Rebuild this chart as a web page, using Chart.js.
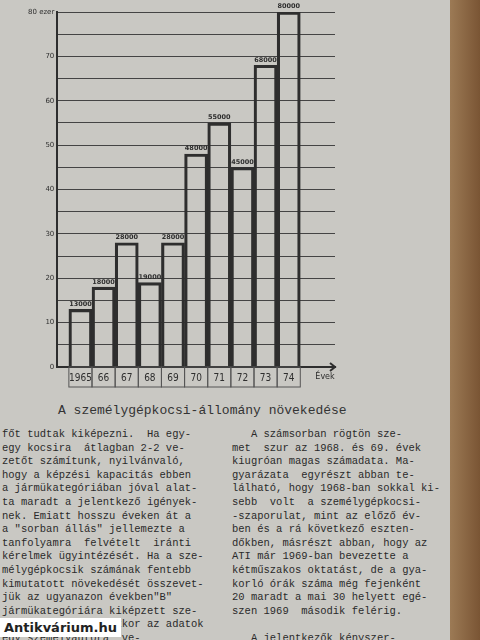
<!DOCTYPE html>
<html>
<head>
<meta charset="utf-8">
<script src="https://cdn.jsdelivr.net/npm/chart.js@4"></script>
<style>
  body { margin: 0; width: 480px; height: 640px; background: #c9c8c3; overflow: hidden; position: relative; }
  #edge { position: absolute; left: 450px; top: 0; width: 30px; height: 640px; background: linear-gradient(90deg, #9c7a55, #7a5534); }
  #wrap { position: absolute; left: 25px; top: 0; width: 312px; height: 400px; }
  #caption { position: absolute; left: 58px; top: 403px; font: 13px "Liberation Mono", monospace; color: #333; }
  .col { position: absolute; top: 428px; font: 10.5px/13.6px "Liberation Mono", monospace; color: #2a2a2a; white-space: pre; }
  #mark { position: absolute; left: 0; top: 618px; background: #fff; color: #222; font: bold 13px "DejaVu Sans", sans-serif; padding: 2px 4px; }
</style>
</head>
<body>
<div id="edge"></div>
<div id="wrap"><canvas id="c"></canvas></div>
<div id="caption">A személygépkocsi-állomány növekedése</div>
<div class="col" style="left:2px">főt tudtak kiképezni.  Ha egy-
egy kocsira  átlagban 2-2 ve-
zetőt számítunk, nyilvánvaló,
hogy a képzési kapacitás ebben
a jármükategóriában jóval alat-
ta maradt a jelentkező igények-
nek. Emiatt hosszu éveken át a
a "sorban állás" jellemezte a
tanfolyamra  felvételt  iránti
kérelmek ügyintézését. Ha a sze-
mélygépkocsik számának fentebb
kimutatott növekedését összevet-
jük az ugyanazon években"B"
jármükategóriára kiképzett sze-
mélyek számával, akkor az adatok
egy személyautóra  ve-
títve, a következő összefüggést
találjuk:
                  aldalon/</div>
<div class="col" style="left:232px">   A számsorban rögtön sze-
met  szur az 1968. és 69. évek
kiugróan magas számadata. Ma-
gyarázata  egyrészt abban te-
lálható, hogy 1968-ban sokkal ki-
sebb  volt  a személygépkocsi-
-szaporulat, mint az előző év-
ben és a rá következő eszten-
dőkben, másrészt abban, hogy az
ATI már 1969-ban bevezette a
kétműszakos oktatást, de a gya-
korló órák száma még fejenként
20 maradt a mai 30 helyett egé-
szen 1969  második felérig.

   A jelentkezők kényszer-
rű várakozásának megszüntetés-
séhez csak 1974-re jutottunk el,
annak következtében, hogy sike-</div>
<div id="mark">Antikvárium.hu</div>
<script>
const years = ['1965', '66', '67', '68', '69', '70', '71', '72', '73', '74'];
const cars = [13000, 18000, 28000, 19000, 28000, 48000, 55000, 45000, 68000, 80000];
const ink = '#2e2e2e';

const decor = {
  id: 'decor',
  afterDatasetsDraw(chart) {
    const { ctx, scales: { x, y } } = chart;
    const meta = chart.getDatasetMeta(0);
    const bars = meta.data.slice(1, 1 + cars.length);
    ctx.save();
    ctx.fillStyle = ink;
    ctx.font = 'bold 6.5px "DejaVu Sans", sans-serif';
    ctx.textAlign = 'center';
    ctx.textBaseline = 'bottom';
    bars.forEach((bar, i) => ctx.fillText(String(cars[i]), bar.x, bar.y - 2));
    // year boxes
    const top = y.getPixelForValue(0), h = 20;
    ctx.strokeStyle = '#555';
    ctx.lineWidth = 1;
    ctx.font = '10px "DejaVu Sans Condensed", sans-serif';
    ctx.textBaseline = 'middle';
    bars.forEach((bar, i) => {
      const w = bar.width;
      ctx.strokeRect(bar.x - w / 2, top, w, h);
      ctx.fillText(years[i], bar.x, top + h / 2 + 1);
    });
    ctx.font = '8px "DejaVu Sans", sans-serif';
    ctx.fillText('Évek', x.right - 10, top + 10);
    // axis arrow
    ctx.strokeStyle = ink;
    ctx.lineWidth = 2;
    ctx.beginPath();
    ctx.moveTo(x.right - 5, top - 4); ctx.lineTo(x.right, top); ctx.lineTo(x.right - 5, top + 4);
    ctx.stroke();
    ctx.restore();
  }
};

new Chart(document.getElementById('c'), {
  type: 'bar',
  data: {
    labels: [''].concat(years, ['', '']),
    datasets: [{
      data: [null].concat(cars.map(v => v / 1000), [null, null]),
      backgroundColor: 'rgba(0,0,0,0)',
      borderColor: ink,
      borderWidth: 2.5,
      categoryPercentage: 1,
      barPercentage: 1
    }]
  },
  options: {
    responsive: true,
    maintainAspectRatio: false,
    animation: false,
    layout: { padding: { top: 12, right: 2, bottom: 25, left: 0 } },
    plugins: { legend: { display: false }, tooltip: { enabled: false } },
    scales: {
      x: {
        offset: false,
        grid: { display: false },
        border: { color: ink, width: 2 },
        ticks: { display: false }
      },
      y: {
        min: 0,
        max: 80,
        ticks: {
          stepSize: 5,
          color: ink,
          font: { size: 7, family: 'DejaVu Sans' },
          callback: v => v % 10 ? '' : (v === 80 ? '80 ezer' : v)
        },
        grid: { color: '#444', lineWidth: 1, drawTicks: false },
        border: { color: ink, width: 2 }
      }
    }
  },
  plugins: [decor]
});
</script>
</body>
</html>
